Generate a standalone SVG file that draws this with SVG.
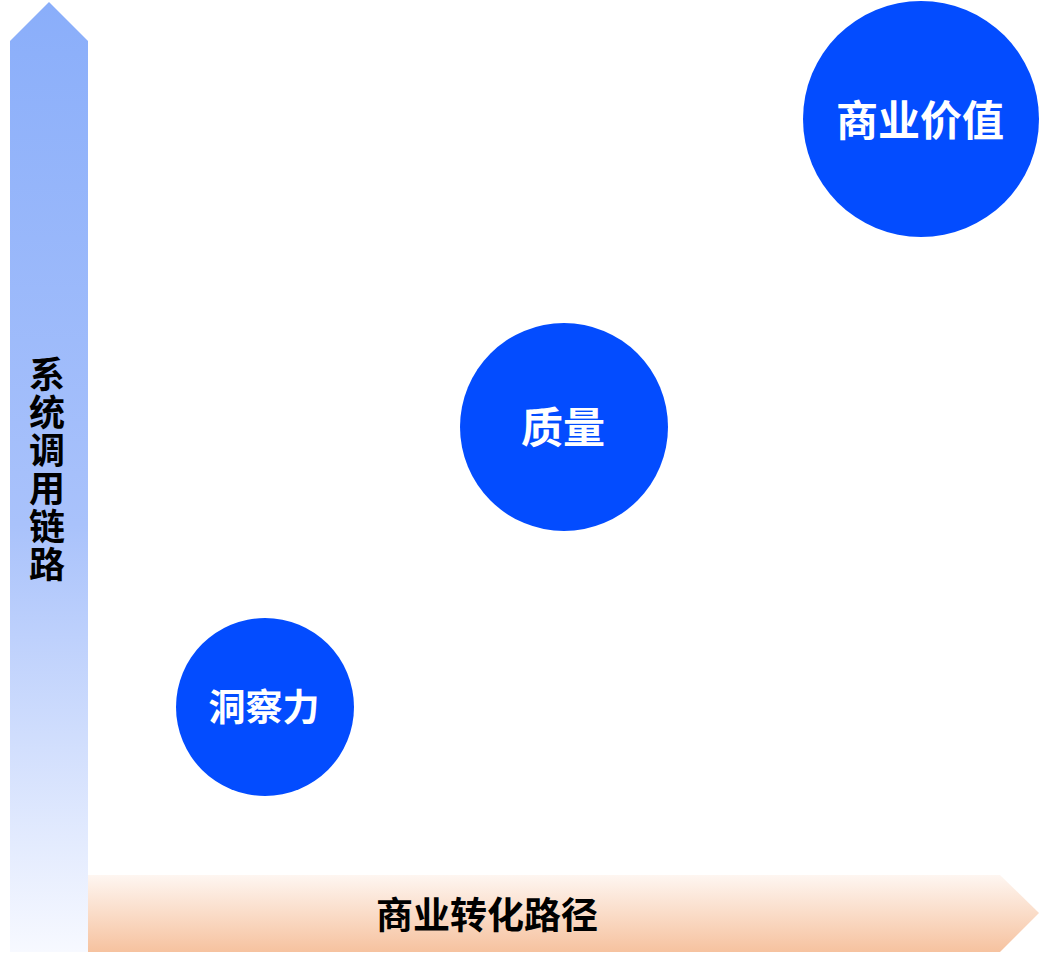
<svg xmlns="http://www.w3.org/2000/svg" width="1039" height="960" viewBox="0 0 1039 960">
<style>
.c{fill:#034cff}
.t{font-family:"Noto Sans CJK SC","Noto Sans",sans-serif;font-weight:bold;text-anchor:middle}
.w{fill:#fff}
.v{font-size:36px}
</style>
<defs>
<linearGradient id="gv" x1="0" y1="0" x2="0" y2="1">
<stop offset="0" stop-color="#8aaefa"/><stop offset="0.55" stop-color="#a9c2fb"/><stop offset="1" stop-color="#f7f9ff"/>
</linearGradient>
<linearGradient id="gh" x1="0" y1="0" x2="0" y2="1">
<stop offset="0" stop-color="#fef6f1"/><stop offset="1" stop-color="#f6c29f"/>
</linearGradient>
</defs>
<rect width="1039" height="960" fill="#fff"/>
<g id="axis-y">
<polygon points="49,2 88,41 88,952 10,952 10,41" fill="url(#gv)"/>
<text class="t v" x="47" y="388">系</text>
<text class="t v" x="47" y="426">统</text>
<text class="t v" x="47" y="464">调</text>
<text class="t v" x="47" y="502">用</text>
<text class="t v" x="47" y="540">链</text>
<text class="t v" x="47" y="578">路</text>
</g>
<g id="axis-x">
<polygon points="88,875 1000,875 1039,913 1000,952 88,952" fill="url(#gh)"/>
<text class="t" x="487" y="929" font-size="37">商业转化路径</text>
</g>
<g id="node-value"><circle class="c" cx="921" cy="119" r="118"/><text class="t w" x="920" y="136" font-size="42">商业价值</text></g>
<g id="node-quality"><circle class="c" cx="564" cy="427" r="104"/><text class="t w" x="563" y="443" font-size="42">质量</text></g>
<g id="node-insight"><circle class="c" cx="265" cy="707" r="89"/><text class="t w" x="264" y="721" font-size="37">洞察力</text></g>
<g id="connectors"/>
</svg>
